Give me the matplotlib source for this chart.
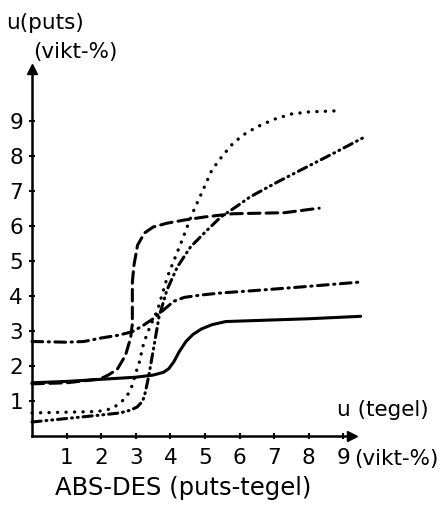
import numpy as np
import matplotlib.pyplot as plt

# (u tegel vs u puts, vikt-%)
solid_u = [0, 1, 2, 3, 3.5, 3.8, 3.95, 4.1, 4.25, 4.45, 4.65, 4.9, 5.2, 5.6, 6.5, 8, 9.5]
solid_v = [1.52, 1.56, 1.62, 1.68, 1.74, 1.82, 1.92, 2.12, 2.4, 2.7, 2.9, 3.06, 3.18, 3.27, 3.3, 3.35, 3.42]

dashdot_u = [0, 1, 1.5, 2, 2.5, 2.9, 3.2, 3.5, 3.8, 4.1, 4.4, 4.9, 5.5, 6.5, 7.8, 9.5]
dashdot_v = [2.7, 2.68, 2.7, 2.8, 2.88, 2.98, 3.15, 3.35, 3.6, 3.85, 3.96, 4.03, 4.09, 4.16, 4.26, 4.4]

dashed_u = [0, 1, 1.97, 2.2, 2.46, 2.7, 2.85, 2.9, 2.9, 2.95, 3.05, 3.25, 3.5, 3.9, 4.4, 5.0, 5.8, 7.3, 8.3]
dashed_v = [1.49, 1.52, 1.63, 1.74, 1.9, 2.3, 2.8, 3.2, 4.4, 4.9, 5.45, 5.8, 5.97, 6.08, 6.17, 6.26, 6.35, 6.38, 6.51]

dotted_u = [0, 1, 1.9, 2.3, 2.55, 2.75, 2.9, 3.0, 3.1, 3.23, 3.4, 3.63, 3.91, 4.3, 4.64,
            4.93, 5.2, 5.5, 5.8, 6.1, 6.5, 7.0, 7.5, 8.0, 8.8]
dotted_v = [0.66, 0.68, 0.7, 0.78, 0.94, 1.15, 1.45, 1.8, 2.1, 2.66, 3.1, 3.6, 4.54, 5.5, 6.37,
            7.0, 7.6, 8.0, 8.35, 8.6, 8.83, 9.05, 9.2, 9.26, 9.29]

ddd_u = [0, 1, 1.4, 2, 2.55, 2.85, 3.04, 3.2, 3.27, 3.37, 3.52, 3.67, 3.9, 4.2, 4.58,
         5.07, 5.46, 5.9, 6.3, 7.1, 7.77, 8.74, 9.55]
ddd_v = [0.4, 0.5, 0.54, 0.6, 0.66, 0.74, 0.83, 1.0, 1.23, 1.69, 2.54, 3.4, 4.17, 4.83, 5.4,
         5.89, 6.26, 6.55, 6.83, 7.26, 7.6, 8.09, 8.51]

ticks = [1, 2, 3, 4, 5, 6, 7, 8, 9]

W, H = 441, 505
fig = plt.figure(figsize=(W / 100, H / 100), dpi=100)
x0, y0 = 32, 436          # origin in pixels
px_u, px_v = 34.6, 35.0   # pixels per unit
xmax, ymax = 9.25, 10.5
ax = fig.add_axes([x0 / W, (H - y0) / H, xmax * px_u / W, ymax * px_v / H])
ax.set_xlim(0, xmax)
ax.set_ylim(0, ymax)

fs = 15.5
for s in ['top', 'right']:
    ax.spines[s].set_visible(False)
for s in ['left', 'bottom']:
    ax.spines[s].set_linewidth(1.8)

# arrow heads on the axes
ax.plot([xmax], [0], marker='>', color='black', ms=7, clip_on=False)
ax.plot([0], [ymax], marker='^', color='black', ms=7, clip_on=False)

ax.set_xticks(ticks)
ax.set_yticks(ticks)
ax.tick_params(direction='inout', length=5, width=1.5, labelsize=fs)
ax.tick_params(axis='x', pad=6)
ax.tick_params(axis='y', pad=4)

kw = dict(color='black', clip_on=False, solid_capstyle='round', dash_capstyle='round')
ax.plot(solid_u, solid_v, lw=2.2, **kw)
ax.plot(dashdot_u, dashdot_v, lw=2.2, linestyle=(0, (3.5, 1.8, 0.4, 1.8)), **kw)
ax.plot(dashed_u, dashed_v, lw=2.2, linestyle=(0, (3.8, 2.0)), **kw)
ax.plot(dotted_u, dotted_v, lw=2.4, linestyle=(0, (0.05, 2.5)), **kw)
ax.plot(ddd_u, ddd_v, lw=2.2, linestyle=(0, (3.0, 1.6, 0.3, 1.6, 0.3, 1.6)), **kw)

fig.text(6 / W, 1 - 23 / H, 'u(puts)', fontsize=fs, va='center', ha='left')
fig.text(33 / W, 1 - 52 / H, '(vikt-%)', fontsize=fs, va='center', ha='left')
fig.text(337 / W, 1 - 410 / H, 'u (tegel)', fontsize=fs, va='center', ha='left')
fig.text(354 / W, 1 - 459 / H, '(vikt-%)', fontsize=fs, va='center', ha='left')
fig.text(55 / W, 1 - 488 / H, 'ABS-DES (puts-tegel)', fontsize=17.5, va='center', ha='left')

fig.savefig('out.png', dpi=100)
